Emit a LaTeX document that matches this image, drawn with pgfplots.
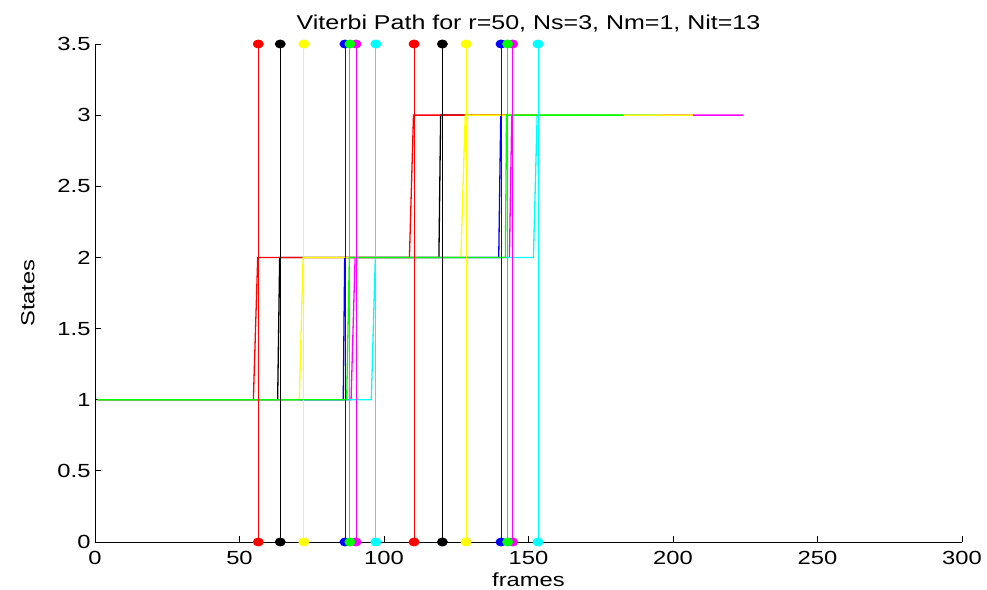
\documentclass[border=0pt]{standalone}
\usepackage{fontspec}
\setmainfont{Liberation Sans}[FakeStretch=1.25]
\usepackage{pgfplots}
\pgfplotsset{compat=1.18}

\definecolor{mred}{rgb}{1,0,0}
\definecolor{mblack}{rgb}{0,0,0}
\definecolor{myellow}{rgb}{1,1,0}
\definecolor{mblue}{rgb}{0,0,1}
\definecolor{mgreen}{rgb}{0,1,0}
\definecolor{mmagenta}{rgb}{1,0,1}
\definecolor{mcyan}{rgb}{0,1,1}

\pgfplotsset{
  path/.style={line width=1.3pt, mark=none},
  seg/.style={line width=0.9pt, mark=*, mark size=4pt,
    mark options={solid, fill=#1, draw=#1, xscale=1.25}, draw=#1},
}

\begin{document}
\begin{tikzpicture}
\begin{axis}[
  name=ax,
  scale only axis, width=867pt, height=498pt,
  xmin=0, xmax=300, ymin=0, ymax=3.5,
  axis x line=bottom, axis y line=left,
  axis line style={-, black, line width=0.8pt},
  xtick={0,50,...,300}, ytick={0,0.5,...,3.5},
  tick align=inside, major tick length=6pt,
  tick style={black, line width=0.8pt},
  /pgf/number format/assume math mode=true,
  ticklabel style={font=\fontsize{19}{22}\selectfont},
  xticklabel style={yshift=-6pt},
  yticklabel style={xshift=-1pt, /pgf/number format/.cd, fixed, precision=1},
  xlabel={frames}, ylabel={States},
  label style={font=\fontsize{19}{22}\selectfont},
  xlabel style={at={(axis description cs:0.5,-0.0900)}, anchor=base},
  ylabel style={at={(axis description cs:-0.0700,0.5)}, anchor=base},
  title={Viterbi Path for r=50, Ns=3, Nm=1, Nit=13},
  title style={font=\fontsize{20}{23}\selectfont, at={(axis description cs:0.5,1)}, anchor=base, yshift=8pt},
  clip=false,
]
% state sequences
\addplot[path, mblack]   coordinates {(1,1) (63.2,1) (63.9,2) (119.0,2) (119.6,3) (170,3)};
\addplot[path, mblue]    coordinates {(1,1) (85.9,1) (86.4,2) (139.7,2) (140.4,3) (178,3)};
\addplot[path, mred]     coordinates {(1,1) (54.8,1) (56.3,2) (108.8,2) (110.2,3) (175,3)};
\addplot[path, mmagenta] coordinates {(1,1) (88.6,1) (90.0,2) (143.4,2) (144.2,3) (224.3,3)};
\addplot[path, mcyan]    coordinates {(1,1) (95.6,1) (97.0,2) (151.7,2) (153.0,3) (195.5,3)};
\addplot[path, myellow]  coordinates {(1,1) (70.7,1) (72.0,2) (126.6,2) (128.1,3) (206.9,3)};
\addplot[path, mgreen]   coordinates {(1,1) (87.1,1) (88.0,2) (142.0,2) (142.4,3) (182.7,3)};
% segment boundaries
\addplot[seg=mred]     coordinates {(56.5,0) (56.5,3.5)};
\addplot[seg=mred]     coordinates {(110.4,0) (110.4,3.5)};
\addplot[seg=mblack]   coordinates {(64.1,0) (64.1,3.5)};
\addplot[seg=mblack]   coordinates {(120.2,0) (120.2,3.5)};
\addplot[seg=myellow]  coordinates {(72.3,0) (72.3,3.5)};
\addplot[seg=myellow]  coordinates {(128.4,0) (128.4,3.5)};
\addplot[seg=mblue]    coordinates {(86.5,0) (86.5,3.5)};
\addplot[seg=mblue]    coordinates {(140.5,0) (140.5,3.5)};
\addplot[seg=mmagenta] coordinates {(90.3,0) (90.3,3.5)};
\addplot[seg=mmagenta] coordinates {(144.5,0) (144.5,3.5)};
\addplot[seg=mcyan]    coordinates {(97.2,0) (97.2,3.5)};
\addplot[seg=mcyan]    coordinates {(153.3,0) (153.3,3.5)};
\addplot[seg=mgreen]   coordinates {(88.2,0) (88.2,3.5)};
\addplot[seg=mgreen]   coordinates {(142.8,0) (142.8,3.5)};
\end{axis}
\pgfresetboundingbox
\path ([shift={(-95pt,-48pt)}]ax.south west) rectangle ([shift={(25pt,44pt)}]ax.north east);
\end{tikzpicture}
\end{document}
